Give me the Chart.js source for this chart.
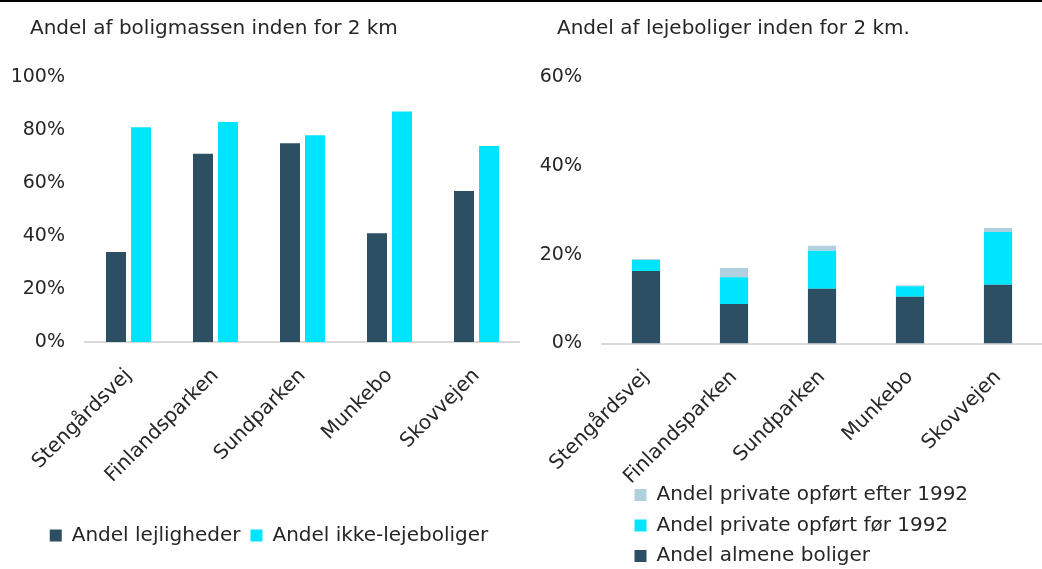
<!DOCTYPE html>
<html><head><meta charset="utf-8">
<script src="https://cdn.jsdelivr.net/npm/chart.js@4"></script>
<style>
html,body{margin:0;padding:0;background:#fff;overflow:hidden;width:1042px;height:569px}
#topline{position:absolute;left:0;top:0;width:1042px;height:2px;background:#000}
#w1{position:absolute;left:0;top:0;width:520px;height:569px}
#w2{position:absolute;left:520px;top:0;width:522px;height:569px}
</style></head><body>
<div id="w1"><canvas id="c1"></canvas></div>
<div id="w2"><canvas id="c2"></canvas></div>
<div id="topline"></div>
<script>
// ---- data ----
const categories = ['Stengårdsvej', 'Finlandsparken', 'Sundparken', 'Munkebo', 'Skovvejen'];
const leftTitle = 'Andel af boligmassen inden for 2 km';
const rightTitle = 'Andel af lejeboliger inden for 2 km.';
const leftSeriesNames = ['Andel lejligheder', 'Andel ikke-lejeboliger'];
const lejligheder = [34, 71, 75, 41, 57];
const ikkeLejeboliger = [81, 83, 78, 87, 74];
const rightSeriesNames = ['Andel almene boliger', 'Andel private opført før 1992', 'Andel private opført efter 1992'];
const almene = [16.3, 8.9, 12.3, 10.5, 13.2];
const privatFoer1992 = [2.5, 6.0, 8.6, 2.4, 11.9];
const privatEfter1992 = [0.2, 2.1, 1.1, 0.2, 0.9];
const leftTickValues = [0, 20, 40, 60, 80, 100];
const leftTickLabels = ['0%', '20%', '40%', '60%', '80%', '100%'];
const rightTickValues = [0, 20, 40, 60];
const rightTickLabels = ['0%', '20%', '40%', '60%'];

// ---- style ----
const DARK = '#2D4F63', CYAN = '#00E5FF', LIGHT = '#AFD0DC';
const TXT = '#262626';
const FAM = "'DejaVu Sans', sans-serif";
Chart.defaults.font.family = FAM;
Chart.defaults.color = TXT;
Chart.defaults.animation = false;

const placePlugin = {
  id: 'place',
  afterLayout(chart, args, o) {
    const t = chart.titleBlock;
    if (t && o.titleX != null) { const w = t.right - t.left; t.left = o.titleX; t.right = o.titleX + w; }
    const l = chart.legend;
    if (l) {
      if (o.legendDX != null) { l.left += o.legendDX; l.right += o.legendDX; }
      if (o.legendLeft != null) { l.left = o.legendLeft; }
      if (o.legendTop != null) { const h = l.bottom - l.top; l.top = o.legendTop; l.bottom = o.legendTop + h; }
    }
    const xs = chart.scales.x;
    if (xs) { xs.bottom = chart.height; xs.height = xs.bottom - xs.top; }
  }
};

function tickCb(vals, labels) {
  return function (v) { const i = vals.indexOf(v); return i >= 0 ? labels[i] : null; };
}

function common(titleText, yMax, tickVals, tickLabels, yWidth, xHeight, stacked, place, legendOpts) {
  return {
    responsive: false,
    maintainAspectRatio: false,
    layout: { padding: { left: 0, right: 0, top: 0, bottom: 0 } },
    plugins: {
      title: { display: true, text: titleText, align: 'start', color: TXT,
        font: { size: 20, weight: 'normal', family: FAM }, padding: { top: 17, bottom: 36 } },
      legend: Object.assign({ position: 'bottom' }, legendOpts),
      tooltip: { enabled: false },
      place: place
    },
    scales: {
      x: {
        stacked: stacked,
        grid: { display: false, drawTicks: false },
        border: { display: true, color: '#D9D9D9', width: 2 },
        ticks: { minRotation: 45, maxRotation: 45, color: TXT, font: { size: 20 }, padding: 22, autoSkip: false },
        afterFit(s) { s.height = xHeight; }
      },
      y: {
        stacked: stacked,
        min: 0, max: yMax,
        grid: { display: false, drawTicks: false },
        border: { display: false },
        ticks: { stepSize: 20, color: TXT, font: { size: 19 }, padding: 20, callback: tickCb(tickVals, tickLabels) },
        afterFit(s) { s.width = yWidth; }
      }
    }
  };
}

const c1 = document.getElementById('c1');
c1.width = 520; c1.height = 569;
new Chart(c1, {
  type: 'bar',
  data: {
    labels: categories,
    datasets: [
      { label: leftSeriesNames[0], data: lejligheder, backgroundColor: DARK, categoryPercentage: 0.575, barPercentage: 0.8 },
      { label: leftSeriesNames[1], data: ikkeLejeboliger, backgroundColor: CYAN, categoryPercentage: 0.575, barPercentage: 0.8 }
    ]
  },
  options: common(leftTitle, 100, leftTickValues, leftTickLabels, 85, 187, false,
    { titleX: 30, legendDX: 9, legendTop: 515.5 },
    { labels: { boxWidth: 12, boxHeight: 12, padding: 10, color: TXT, font: { size: 20 } } }),
  plugins: [placePlugin]
});

const c2 = document.getElementById('c2');
c2.width = 522; c2.height = 569;
new Chart(c2, {
  type: 'bar',
  data: {
    labels: categories,
    datasets: [
      { label: rightSeriesNames[0], data: almene, backgroundColor: DARK, categoryPercentage: 0.8, barPercentage: 0.4 },
      { label: rightSeriesNames[1], data: privatFoer1992, backgroundColor: CYAN, categoryPercentage: 0.8, barPercentage: 0.4 },
      { label: rightSeriesNames[2], data: privatEfter1992, backgroundColor: LIGHT, categoryPercentage: 0.8, barPercentage: 0.4 }
    ]
  },
  options: common(rightTitle, 60, rightTickValues, rightTickLabels, 82, 124, true,
    { titleX: 37, legendLeft: 104, legendTop: 474.5 },
    { align: 'start', reverse: true, labels: { boxWidth: 12, boxHeight: 12, padding: 10.5, color: TXT, font: { size: 20 } } }),
  plugins: [placePlugin]
});
</script>
</body></html>
